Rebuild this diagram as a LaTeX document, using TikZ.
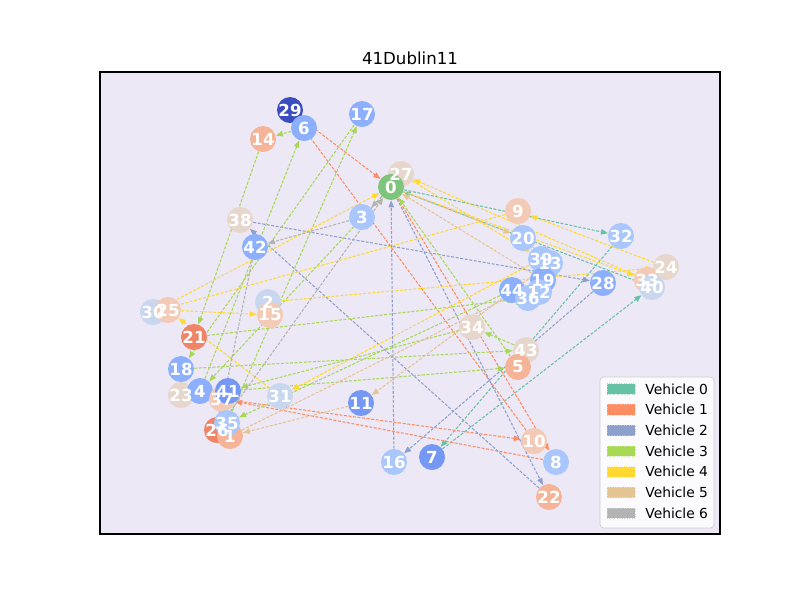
\documentclass[tikz,border=0pt]{standalone}
\usepackage{fontspec}
\setmainfont{DejaVu Sans}
\usetikzlibrary{arrows.meta}

\pgfdeclarelayer{back}
\pgfdeclarelayer{edges}
\pgfdeclarelayer{front}
\pgfsetlayers{back,edges,main,front}

\definecolor{plotbg}{RGB}{237,232,245}
\definecolor{veh0}{HTML}{66C2A5}
\definecolor{veh1}{HTML}{FC8D62}
\definecolor{veh2}{HTML}{8DA0CB}
\definecolor{veh3}{HTML}{A6D854}
\definecolor{veh4}{HTML}{FFD92F}
\definecolor{veh5}{HTML}{E5C494}
\definecolor{veh6}{HTML}{B3B3B3}
\definecolor{depot}{HTML}{7DC47D}
\definecolor{bDark}{HTML}{3B4CC0}
\definecolor{bMid}{HTML}{7698F5}
\definecolor{bLight}{HTML}{8DB0FE}
\definecolor{bPale}{HTML}{AAC7FD}
\definecolor{bGrey}{HTML}{C8D6EF}
\definecolor{beige}{HTML}{E6D6CC}
\definecolor{peach}{HTML}{F2CAB5}
\definecolor{apricot}{HTML}{F5B497}
\definecolor{salmon}{HTML}{EE8468}

\tikzset{
	city/.style={circle, inner sep=0pt, minimum size=0.52cm},
	num/.style={text=white, inner sep=0pt, font=\bfseries\fontsize{9.45}{10}\selectfont},
	route/.style={line width=0.6pt, dash pattern=on 1.7pt off 0.9pt, -{Triangle[length=1.4mm,width=1.1mm]}},
	r0/.style={route, veh0},
	r1/.style={route, veh1},
	r2/.style={route, veh2},
	r3/.style={route, veh3},
	r4/.style={route, veh4},
	r5/.style={route, veh5},
	r6/.style={route, veh6},
	patch/.style={minimum width=0.56cm, minimum height=0.21cm, inner sep=0pt, densely dotted, line width=0.4pt},
	key/.style={anchor=west, inner sep=0pt, font=\fontsize{7.87}{9}\selectfont},
}

\begin{document}
\begin{tikzpicture}[x=0.02cm, y=-0.02cm]
	\useasboundingbox (0,0) rectangle (800,600);
	\begin{pgfonlayer}{back}
		\fill[plotbg] (100,72) rectangle (720,534);
	\end{pgfonlayer}
	\draw[line width=0.6pt] (100,72) rectangle (720,534);
	\node[font=\fontsize{9.45}{11}\selectfont] (title) at (410,58) {41Dublin11};

	% customers
	\node[city, fill=bDark] (n29) at (290,110) {};
	\node[city, fill=bLight] (n6) at (304,128) {};
	\node[city, fill=apricot] (n14) at (263,139) {};
	\node[city, fill=bLight] (n17) at (362,114) {};
	\node[city, fill=beige] (n27) at (401,174) {};
	\node[city, fill=bPale] (n3) at (362,217) {};
	\node[city, fill=beige] (n38) at (240,220) {};
	\node[city, fill=bLight] (n42) at (255,247) {};
	\node[city, fill=peach] (n9) at (518,211) {};
	\node[city, fill=bPale] (n20) at (523,238) {};
	\node[city, fill=bPale] (n32) at (621,236) {};
	\node[city, fill=bPale] (n39) at (541,259) {};
	\node[city, fill=bPale] (n13) at (550,263) {};
	\node[city, fill=beige] (n24) at (666,267) {};
	\node[city, fill=bLight] (n19) at (543,280) {};
	\node[city, fill=peach] (n33) at (647,280) {};
	\node[city, fill=bGrey] (n40) at (652,287) {};
	\node[city, fill=bLight] (n28) at (603,283) {};
	\node[city, fill=bLight] (n44) at (512,290) {};
	\node[city, fill=bPale] (n36) at (528,298) {};
	\node[city, fill=bPale] (n12) at (539,292) {};
	\node[city, fill=bGrey] (n30) at (153,312) {};
	\node[city, fill=peach] (n25) at (168,310) {};
	\node[city, fill=bGrey] (n2) at (268,302) {};
	\node[city, fill=peach] (n15) at (270,315) {};
	\node[city, fill=salmon] (n21) at (194,337) {};
	\node[city, fill=beige] (n34) at (472,327) {};
	\node[city, fill=beige] (n43) at (526,350) {};
	\node[city, fill=apricot] (n5) at (518,367) {};
	\node[city, fill=bLight] (n18) at (181,369) {};
	\node[city, fill=beige] (n23) at (181,395) {};
	\node[city, fill=bLight] (n4) at (200,391) {};
	\node[city, fill=peach] (n37) at (222,399) {};
	\node[city, fill=bMid] (n41) at (228,391) {};
	\node[city, fill=bGrey] (n31) at (280,396) {};
	\node[city, fill=bMid] (n11) at (361,403) {};
	\node[city, fill=salmon] (n26) at (217,430) {};
	\node[city, fill=apricot] (n1) at (230,436) {};
	\node[city, fill=bPale] (n35) at (227,423) {};
	\node[city, fill=peach] (n10) at (534,441) {};
	\node[city, fill=bPale] (n8) at (556,462) {};
	\node[city, fill=bMid] (n7) at (432,457) {};
	\node[city, fill=bPale] (n16) at (394,462) {};
	\node[city, fill=apricot] (n22) at (549,497) {};
	% depot
	\node[city, fill=depot] (n0) at (391,187) {};

	\begin{pgfonlayer}{front}
		\foreach \i in {0,...,44}
			\node[num] (t\i) at (n\i) {\i};
	\end{pgfonlayer}

	\begin{pgfonlayer}{edges}
		% vehicle 0
		\draw[r0] (n0) -- (n32);
		\draw[r0] (n32) -- (n7);
		\draw[r0] (n7) -- (n40);
		\draw[r0] (n40) -- (n0);
		% vehicle 1
		\draw[r1] (n0) -- (n8);
		\draw[r1] (n8) -- (n37);
		\draw[r1] (n37) -- (n10);
		\draw[r1] (n10) -- (n29);
		\draw[r1] (n29) -- (n0);
		% vehicle 2
		\draw[r2] (n0) -- (n22);
		\draw[r2] (n22) -- (n38);
		\draw[r2] (n38) -- (n28);
		\draw[r2] (n28) -- (n16);
		\draw[r2] (n16) -- (n0);
		% vehicle 3
		\draw[r3] (n0) -- (n4);
		\draw[r3] (n4) -- (n6);
		\draw[r3] (n6) -- (n14);
		\draw[r3] (n14) -- (n21);
		\draw[r3] (n21) -- (n36);
		\draw[r3] (n36) -- (n12);
		\draw[r3] (n12) -- (n44);
		\draw[r3] (n44) -- (n35);
		\draw[r3] (n35) -- (n17);
		\draw[r3] (n17) -- (n18);
		\draw[r3] (n18) -- (n43);
		\draw[r3] (n43) -- (n34);
		\draw[r3] (n34) -- (n41);
		\draw[r3] (n41) -- (n23);
		\draw[r3] (n23) -- (n5);
		\draw[r3] (n5) -- (n0);
		% vehicle 4
		\draw[r4] (n0) -- (n33);
		\draw[r4] (n33) -- (n27);
		\draw[r4] (n27) -- (n39);
		\draw[r4] (n39) -- (n31);
		\draw[r4] (n31) -- (n25);
		\draw[r4] (n25) -- (n15);
		\draw[r4] (n15) -- (n2);
		\draw[r4] (n2) -- (n24);
		\draw[r4] (n24) -- (n9);
		\draw[r4] (n9) -- (n30);
		\draw[r4] (n30) -- (n0);
		% vehicle 5
		\draw[r5] (n0) -- (n20);
		\draw[r5] (n20) -- (n13);
		\draw[r5] (n13) -- (n11);
		\draw[r5] (n11) -- (n1);
		\draw[r5] (n1) -- (n19);
		\draw[r5] (n19) -- (n0);
		% vehicle 6
		\draw[r6] (n0) -- (n3);
		\draw[r6] (n3) -- (n42);
		\draw[r6] (n42) -- (n26);
		\draw[r6] (n26) -- (n0);
	\end{pgfonlayer}

	% legend
	\draw[gray!40, fill=white, fill opacity=0.8, rounded corners=2pt] (600,377) rectangle (714,528);
	\node[patch, fill=veh0, draw=veh0!60!white] (p0) at (621,389) {};
	\node[patch, fill=veh1, draw=veh1!60!white] (p1) at (621,409.7) {};
	\node[patch, fill=veh2, draw=veh2!60!white] (p2) at (621,430.4) {};
	\node[patch, fill=veh3, draw=veh3!60!white] (p3) at (621,451.1) {};
	\node[patch, fill=veh4, draw=veh4!60!white] (p4) at (621,471.8) {};
	\node[patch, fill=veh5, draw=veh5!60!white] (p5) at (621,492.5) {};
	\node[patch, fill=veh6, draw=veh6!60!white] (p6) at (621,513.2) {};
	\node[key] (k0) at (645,389) {Vehicle 0};
	\node[key] (k1) at (645,409.7) {Vehicle 1};
	\node[key] (k2) at (645,430.4) {Vehicle 2};
	\node[key] (k3) at (645,451.1) {Vehicle 3};
	\node[key] (k4) at (645,471.8) {Vehicle 4};
	\node[key] (k5) at (645,492.5) {Vehicle 5};
	\node[key] (k6) at (645,513.2) {Vehicle 6};
\end{tikzpicture}
\end{document}
